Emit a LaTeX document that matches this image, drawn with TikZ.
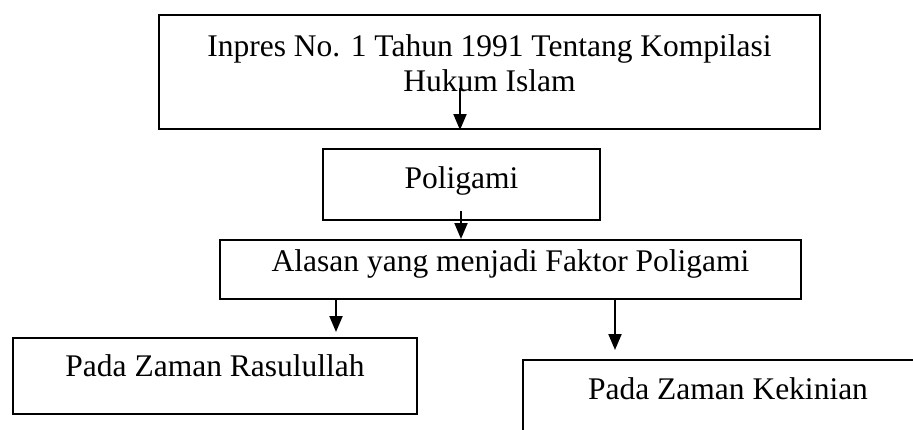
\documentclass[tikz,border=0pt]{standalone}
\usepackage{fontspec}
\setmainfont{Liberation Serif}
\usetikzlibrary{arrows.meta}

\begin{document}
\begin{tikzpicture}[x=1pt,y=-1pt]
			\tikzset{kotak/.style={draw,line width=2pt,anchor=north west,inner sep=0pt,align=center,font=\fontsize{31.5}{35}\selectfont}}
			\tikzset{panah/.style={line width=2pt,-{Triangle[width=13pt,length=16pt]}}}
			\useasboundingbox (0,0) rectangle (913,429);
			\clip (0,0) rectangle (913,429);
			\node[kotak,minimum width=661pt,minimum height=114pt,text height=50pt,text depth=12pt] (inpres) at (158,14) {Inpres No. 1 Tahun 1991 Tentang Kompilasi\\Hukum Islam};
			\node[kotak,minimum width=277pt,minimum height=71pt,text height=20pt,text depth=13pt] (poligami) at (322,148) {Poligami};
			\node[kotak,minimum width=581pt,minimum height=59pt,text height=20pt,text depth=17pt] (alasan) at (219,239) {Alasan yang menjadi Faktor Poligami};
			\node[kotak,minimum width=404pt,minimum height=76pt,text height=20pt,text depth=20pt] (rasul) at (12,337) {Pada Zaman Rasulullah};
			\node[kotak,minimum width=410pt,minimum height=85pt,text height=20pt,text depth=27pt] (kini) at (522,359) {Pada Zaman Kekinian};
			\coordinate (p1) at (460,88);
			\coordinate (p2) at (461,211);
			\coordinate (p3) at (336,332);
			\coordinate (p4) at (615,350);
			\draw[panah] (p1) -- (p1 |- inpres.south);
			\draw[panah] (p2) -- (p2 |- alasan.north);
			\draw[panah] (alasan.south -| p3) -- (p3);
			\draw[panah] (alasan.south -| p4) -- (p4);
		\end{tikzpicture}
\end{document}
